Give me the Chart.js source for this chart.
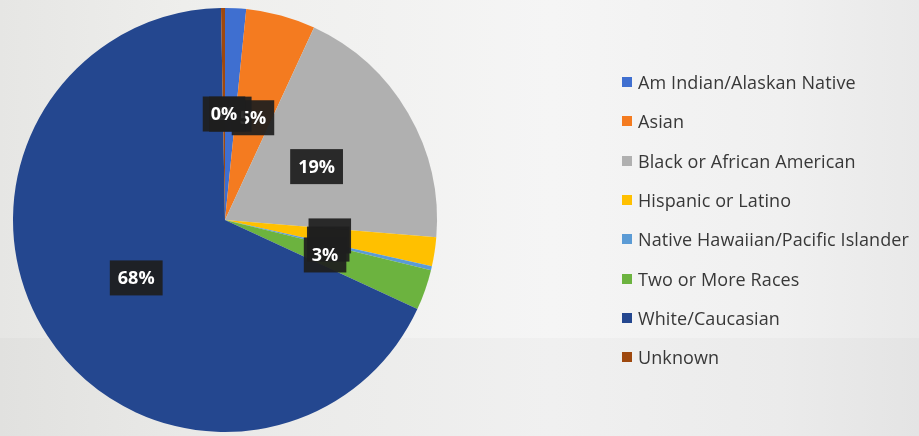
<!DOCTYPE html>
<html>
<head>
<meta charset="utf-8">
<script src="https://cdn.jsdelivr.net/npm/chart.js@4.4.0/dist/chart.umd.min.js"></script>
<style>
    html, body {
        margin: 0;
        padding: 0;
    }
    #wrap {
        position: relative;
        width: 919px;
        height: 436px;
        overflow: hidden;
        background: linear-gradient(90deg, #e6e6e4 0%, #eeeeec 20%, #f5f5f5 60%, #f0f0f0 85%, #e9e9e9 100%);
    }
    #lower {
        position: absolute;
        left: 0;
        top: 338px;
        width: 919px;
        height: 98px;
        background: rgba(0, 0, 0, 0.02);
    }
    #legend {
        position: absolute;
        left: 622px;
        top: 0;
        font-family: "Open Sans", sans-serif;
        font-size: 18px;
        color: #383838;
    }
    .item {
        position: absolute;
        left: 0;
        height: 24px;
        line-height: 24px;
        white-space: nowrap;
    }
    .box {
        position: absolute;
        left: 0;
        top: 7px;
        width: 10px;
        height: 10px;
    }
    .txt {
        position: absolute;
        left: 16px;
        top: 0;
        letter-spacing: 0.1px;
    }
    canvas {
        position: absolute;
        left: 0;
        top: 0;
    }
</style>
</head>
<body>
<div id="wrap">
    <div id="lower"></div>
    <canvas id="chart" width="919" height="436"></canvas>
    <div id="legend"></div>
</div>
<script>
const categories = [
    "Am Indian/Alaskan Native",
    "Asian",
    "Black or African American",
    "Hispanic or Latino",
    "Native Hawaiian/Pacific Islander",
    "Two or More Races",
    "White/Caucasian",
    "Unknown",
]
const shares = [1.6, 5.3, 19.4, 2.2, 0.3, 3.1, 67.8, 0.3]
const sliceColors = ["#3f6fd0", "#f47b20", "#b0b0b0", "#ffc000", "#5b9bd5", "#6cb33f", "#24478f", "#9e480e"]
// excel hid the text of these two labels behind the "3%" one
const labelTextShown = [true, true, true, false, false, true, true, true]

const total = shares.reduce((a, b) => a + b, 0)

// dark boxed percent labels, drawn in slice order so later ones cover earlier ones
const percentLabels = {
    id: "percentLabels",
    afterDatasetsDraw(chart) {
        const { ctx } = chart
        const meta = chart.getDatasetMeta(0)
        ctx.save()
        ctx.font = "bold 18px 'Open Sans', sans-serif"
        ctx.textAlign = "center"
        ctx.textBaseline = "middle"
        meta.data.forEach((arc, i) => {
            const { x, y } = arc.getCenterPoint()
            const text = Math.round((shares[i] / total) * 100) + "%"
            const w = ctx.measureText(text).width + 16
            const h = 35
            ctx.fillStyle = "rgba(30, 30, 30, 0.93)"
            ctx.fillRect(x - w / 2, y - h / 2, w, h)
            if (labelTextShown[i]) {
                ctx.fillStyle = "#ffffff"
                ctx.fillText(text, x, y + 1)
            }
        })
        ctx.restore()
    },
}

new Chart(document.getElementById("chart"), {
    type: "pie",
    data: {
        labels: categories,
        datasets: [
            {
                data: shares,
                backgroundColor: sliceColors,
                borderWidth: 0,
            },
        ],
    },
    options: {
        responsive: false,
        animation: false,
        layout: {
            padding: { left: 13, right: 482, top: 8, bottom: 4 },
        },
        plugins: {
            legend: { display: false },
            tooltip: { enabled: false },
        },
    },
    plugins: [percentLabels],
})

const legendEl = document.getElementById("legend")
categories.forEach((name, i) => {
    const row = document.createElement("div")
    row.className = "item"
    row.style.top = (82 + i * 39.3 - 12) + "px"
    row.innerHTML = `<span class="box" style="background:${sliceColors[i]}"></span><span class="txt">${name}</span>`
    legendEl.appendChild(row)
})
</script>
</body>
</html>
